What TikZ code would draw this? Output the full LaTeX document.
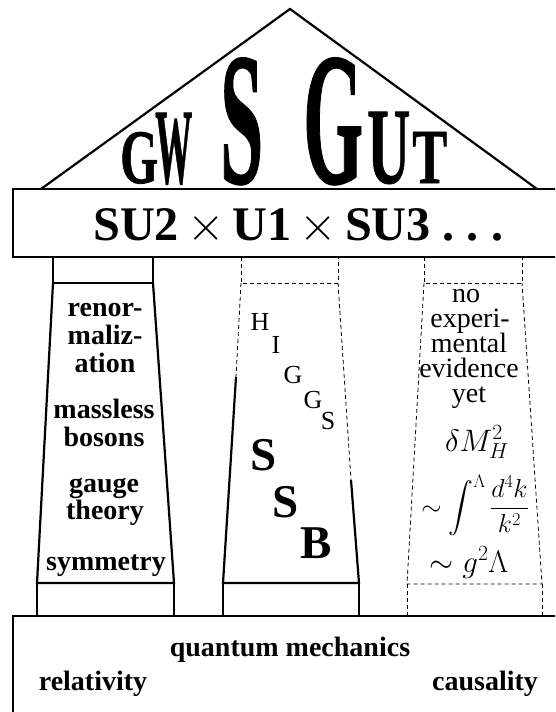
\RequirePackage{fix-cm}
\documentclass[tikz,border=0pt]{standalone}
\usepackage{amsmath}
\usepackage{exscale}
\usepackage{fontspec}
\setmainfont{Liberation Serif}
\newfontfamily\rooffont[FakeBold=1]{Liberation Serif Bold}
\usepackage{graphicx}
\tikzset{
  solidline/.style={line width=2.2pt, line join=miter},
  dashline/.style={line width=0.8pt, dash pattern=on 4pt off 3pt},
  txt/.style={inner sep=0pt, anchor=base},
  boldA/.style={txt, font=\fontsize{28}{28}\selectfont\bfseries},
  regA/.style={txt, font=\fontsize{28}{28}\selectfont},
  higgs/.style={txt, font=\fontsize{26}{26}\selectfont},
  ssb/.style={txt, font=\fontsize{47}{47}\selectfont\bfseries},
  mathA/.style={txt, font=\fontsize{26}{26}\selectfont},
  mathB/.style={txt, font=\fontsize{31}{31}\selectfont},
  roofletter/.style={inner sep=0pt, anchor=base west},
}
\newcommand{\roofchar}[3]{\resizebox{#1pt}{#2pt}{\rooffont #3}}
\begin{document}
\begin{tikzpicture}[x=1pt,y=-1pt]
\useasboundingbox (0,0) rectangle (555,712);
\clip (0,0) rectangle (555,712);
% roof
\coordinate (apex) at (290,9);
\coordinate (roofL) at (41,189);
\coordinate (roofR) at (537,189);
\draw[solidline] (roofL) -- (apex) -- (roofR);
% entablature
\draw[solidline] (13,189) rectangle (570,257);
% roof letters
\node[roofletter] (g1) at (120,183) {\roofchar{38}{51}{G}};
\node[roofletter] (w1) at (155,183) {\roofchar{37}{70}{W}};
\node[roofletter] (s1) at (220,183) {\roofchar{43}{125}{S}};
\node[roofletter] (g2) at (303,183) {\roofchar{60}{125}{G}};
\node[roofletter] (u2) at (367,183) {\roofchar{43}{71}{U}};
\node[roofletter] (t2) at (412,183) {\roofchar{35}{51}{T}};
% title
\node[txt, anchor=base west] (groups) at (93,240) {\resizebox{410pt}{!}{\fontsize{48}{48}\selectfont\bfseries SU2\,$\times$\,U1\,$\times$\,SU3\ .\ .\ .}};
% left pillar
\draw[solidline] (53,257) rectangle (153,283);
\draw[solidline] (53,283) -- (37,583) -- (174,583) -- (153,283);
\draw[solidline] (37,583) -- (37,616);
\draw[solidline] (174,583) -- (174,616);
\node[boldA] (l1) at (105,316) {renor-};
\node[boldA] (l2) at (105,344) {maliz-};
\node[boldA] (l3) at (105,372) {ation};
\node[boldA] (l4) at (104,418) {massless};
\node[boldA] (l5) at (104,446) {bosons};
\node[boldA] (l6) at (104,492) {gauge};
\node[boldA] (l7) at (105,519) {theory};
\node[boldA] (l8) at (106,570) {symmetry};
% middle pillar
\draw[dashline] (241,257) -- (241,283) -- (338,283) -- (338,257);
\draw[dashline] (241,283) -- (236,377);
\draw[dashline] (338,283) -- (351,480);
\draw[solidline] (236,377) -- (223,583) -- (359,583) -- (351,480);
\draw[solidline] (223,583) -- (223,616);
\draw[solidline] (359,583) -- (359,616);
\node[higgs] (h1) at (260,330) {H};
\node[higgs] (h2) at (276,353) {I};
\node[higgs] (h3) at (293,383) {G};
\node[higgs] (h4) at (313,408) {G};
\node[higgs] (h5) at (328,429) {S};
\node[ssb] (b1) at (264,470) {S};
\node[ssb] (b2) at (286,517) {S};
\node[ssb] (b3) at (316,558) {B};
% right pillar
\draw[dashline] (424,257) -- (424,283) -- (522,283) -- (522,257);
\draw[dashline] (424,283) -- (407,584) -- (542,584) -- (522,283);
\draw[dashline] (407,584) -- (407,616);
\draw[dashline] (542,584) -- (542,616);
\node[regA] (r1) at (466,302) {no};
\node[regA] (r2) at (470,327) {experi-};
\node[regA] (r3) at (469,352) {mental};
\node[regA] (r4) at (469,377) {evidence};
\node[regA] (r5) at (469,402) {yet};
\node[mathB] (m1) at (477,451) {$\delta M_H^2$};
\node[mathA] (m2) at (475,515) {$\displaystyle \sim\int^\Lambda\frac{d^4k}{k^2}$};
\node[mathB] (m3) at (469,572) {$\sim g^2\Lambda$};
% base
\draw[solidline] (570,616) -- (13,616) -- (13,720);
\node[boldA] (q1) at (290,656) {quantum mechanics};
\node[boldA] (q2) at (93,690) {relativity};
\node[boldA] (q3) at (485,690) {causality};
\end{tikzpicture}
\end{document}
